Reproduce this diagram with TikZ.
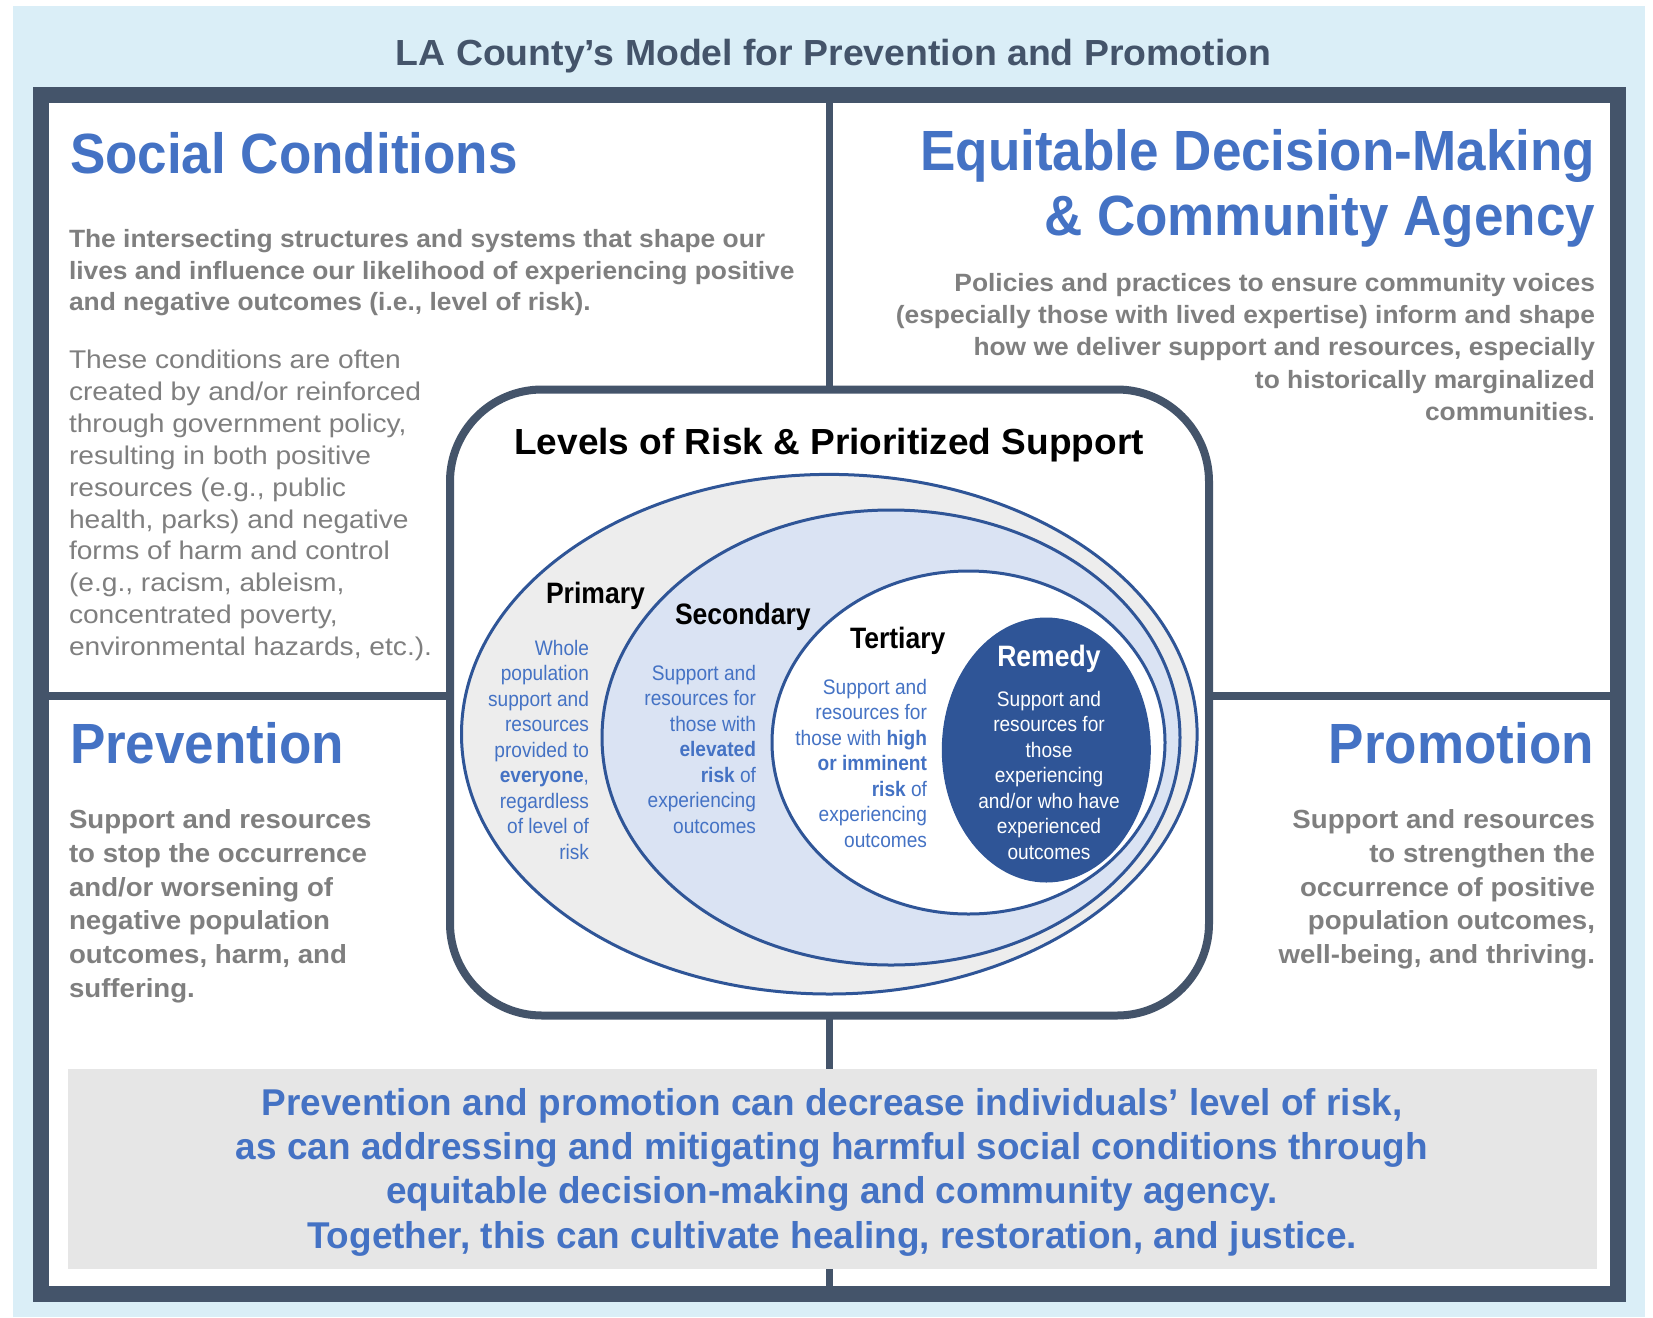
\documentclass[tikz,border=0pt]{standalone}
\usepackage{fontspec}
\setmainfont{Liberation Sans}
\newfontfamily\fHead[FakeStretch=0.935]{Liberation Sans}
\newfontfamily\fBody[FakeStretch=1.055]{Liberation Sans}
\newfontfamily\fReg[FakeStretch=1.10]{Liberation Sans}
\newfontfamily\fLab[FakeStretch=0.90]{Liberation Sans}
\newfontfamily\fSmall[FakeStretch=0.91]{Liberation Sans}
\newfontfamily\fTitle[FakeStretch=1.03]{Liberation Sans}
\newfontfamily\fLvl[FakeStretch=1.02]{Liberation Sans}
\newfontfamily\fBott[FakeStretch=0.99]{Liberation Sans}
\definecolor{blueT}{HTML}{4472C4}
\definecolor{grayT}{HTML}{7F7F7F}
\definecolor{slate}{HTML}{44546A}
\definecolor{edark}{HTML}{2F5597}
\definecolor{bgblue}{HTML}{DAEEF7}
\definecolor{gbox}{HTML}{E6E6E6}
\definecolor{prim}{HTML}{EDEDED}
\definecolor{secf}{HTML}{DAE3F3}
\newcommand\linesL[2]{\vtop{\baselineskip=#1pt\lineskiplimit=-100pt\lineskip=0pt\halign{##\hfil\cr#2\crcr}}}
\newcommand\linesR[2]{\vtop{\baselineskip=#1pt\lineskiplimit=-100pt\lineskip=0pt\halign{\hfil##\cr#2\crcr}}}
\newcommand\linesC[2]{\vtop{\baselineskip=#1pt\lineskiplimit=-100pt\lineskip=0pt\halign{\hfil##\hfil\cr#2\crcr}}}
\begin{document}
\begin{tikzpicture}[x=1pt,y=-1pt,
  txt/.style={inner sep=0pt, outer sep=0pt},
  titlet/.style={txt, text=slate, font=\fTitle\bfseries\fontsize{36.3}{40}\selectfont},
  head/.style={txt, text=blueT, font=\fHead\bfseries\fontsize{56.7}{60}\selectfont},
  body/.style={txt, text=grayT, font=\fBody\bfseries\fontsize{25}{30}\selectfont},
  bodyb/.style={txt, text=grayT, font=\fBody\bfseries\fontsize{26.2}{30}\selectfont},
  regt/.style={txt, text=grayT, font=\fReg\fontsize{25.6}{30}\selectfont},
  bott/.style={txt, text=blueT, font=\fBott\bfseries\fontsize{37.3}{44}\selectfont},
  lvl/.style={txt, text=black, font=\fLvl\bfseries\fontsize{36.3}{40}\selectfont},
  lab/.style={txt, text=black, font=\fLab\bfseries\fontsize{29.5}{32}\selectfont},
  small/.style={txt, text=blueT, font=\fSmall\fontsize{21}{25}\selectfont},
  ell/.style={draw=edark, line width=3pt}]
\useasboundingbox (0,0) rectangle (1653,1317);
% background
\fill[bgblue] (13,6) rectangle (1645,1317);
% frame
\filldraw[fill=white, draw=slate, line width=16pt] (40.6,95.3) rectangle (1618,1294);
% dividers
\draw[slate, line width=7.5pt] (829.3,103) -- (829.3,1286);
\draw[slate, line width=8pt] (48.6,695.5) -- (1610,695.5);
% rounded central box
\filldraw[fill=white, draw=slate, line width=8pt, rounded corners=92pt] (450,389.5) rectangle (1209,1015.5);
% bottom gray box
\fill[gbox] (67.7,1069) rectangle (1597,1269);
% ellipses
\filldraw[ell, fill=prim] (829.3,734.2) ellipse [x radius=367.8pt, y radius=259.8pt];
\filldraw[ell, fill=secf] (891,737.5) ellipse [x radius=289pt, y radius=227.5pt];
\filldraw[ell, fill=white] (968.5,742.5) ellipse [x radius=196.5pt, y radius=171.5pt];
\filldraw[ell, fill=edark] (1046.3,750) ellipse [x radius=103pt, y radius=131pt];
% title
\node[titlet, anchor=base] (title) at (833.5,65) {LA County’s Model for Prevention and Promotion};
% Social conditions
\node[head, anchor=base west] (sc) at (70,173) {Social Conditions};
\node[body, anchor=base west] (scb) at (69,247.5) {\linesL{31.6}{The intersecting structures and systems that shape our\cr
lives and influence our likelihood of experiencing positive\cr
and negative outcomes (i.e., level of risk).}};
\node[regt, anchor=base west] (scr) at (69,368.5) {\linesL{31.9}{These conditions are often\cr
created by and/or reinforced\cr
through government policy,\cr
resulting in both positive\cr
resources (e.g., public\cr
health, parks) and negative\cr
forms of harm and control\cr
(e.g., racism, ableism,\cr
concentrated poverty,\cr
environmental hazards, etc.).}};
% Equitable decision making
\node[head, anchor=base east] (ed1) at (1595,170) {Equitable Decision-Making};
\node[head, anchor=base east] (ed2) at (1595,235) {\& Community Agency};
\node[body, anchor=base east] (edb) at (1595,291.7) {\linesR{32.1}{Policies and practices to ensure community voices\cr
(especially those with lived expertise) inform and shape\cr
how we deliver support and resources, especially\cr
to historically marginalized\cr
communities.}};
% Prevention
\node[head, anchor=base west] (pv) at (70,763) {Prevention};
\node[bodyb, anchor=base west] (pvb) at (69,828.5) {\linesL{33.8}{Support and resources\cr
to stop the occurrence\cr
and/or worsening of\cr
negative population\cr
outcomes, harm, and\cr
suffering.}};
% Promotion
\node[head, anchor=base east] (pm) at (1594,763) {Promotion};
\node[bodyb, anchor=base east] (pmb) at (1595,828.5) {\linesR{33.8}{Support and resources\cr
to strengthen the\cr
occurrence of positive\cr
population outcomes,\cr
well-being, and thriving.}};
% bottom summary
\node[bott, anchor=base] (sum) at (832,1115) {\linesC{44.4}{Prevention and promotion can decrease individuals’ level of risk,\cr
as can addressing and mitigating harmful social conditions through\cr
equitable decision-making and community agency.\cr
Together, this can cultivate healing, restoration, and justice.}};
% levels
\node[lvl, anchor=base] (lv) at (829,454) {Levels of Risk \& Prioritized Support};
\node[lab, anchor=base west] (pr) at (546,603.3) {Primary};
\node[lab, anchor=base west] (se) at (675,624) {Secondary};
\node[lab, anchor=base west] (te) at (850,648.3) {Tertiary};
\node[lab, text=white, anchor=base west] (re) at (997.3,666.7) {Remedy};
\node[small, anchor=base east] (prt) at (589,655) {\linesR{25.5}{Whole\cr
population\cr
support and\cr
resources\cr
provided to\cr
{\bfseries everyone},\cr
regardless\cr
of level of\cr
risk}};
\node[small, anchor=base east] (set) at (756,680) {\linesR{25.5}{Support and\cr
resources for\cr
those with\cr
{\bfseries elevated}\cr
{\bfseries risk} of\cr
experiencing\cr
outcomes}};
\node[small, anchor=base east] (tet) at (927,694) {\linesR{25.5}{Support and\cr
resources for\cr
those with {\bfseries high}\cr
{\bfseries or imminent}\cr
{\bfseries risk} of\cr
experiencing\cr
outcomes}};
\node[small, text=white, anchor=base] (ret) at (1049,706) {\linesC{25.5}{Support and\cr
resources for\cr
those\cr
experiencing\cr
and/or who have\cr
experienced\cr
outcomes}};
\end{tikzpicture}
\end{document}
